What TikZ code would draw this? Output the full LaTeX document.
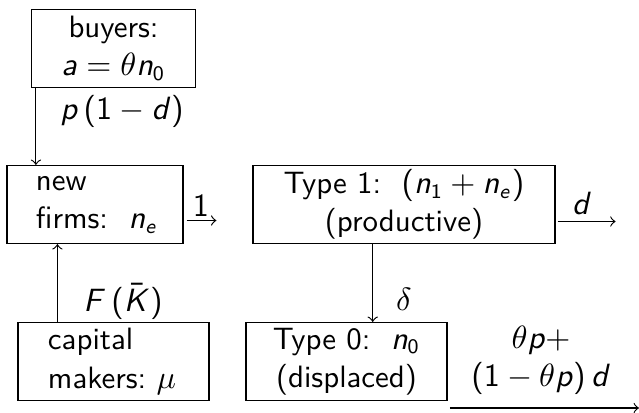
\documentclass[tikz,border=0pt]{standalone}
\usetikzlibrary{calc}
\SetSymbolFont{operators}{normal}{OT1}{cmss}{m}{n}
\DeclareSymbolFont{sfletters}{OT1}{cmss}{m}{sl}
\DeclareMathSymbol{a}{\mathalpha}{sfletters}{`a}
\DeclareMathSymbol{n}{\mathalpha}{sfletters}{`n}
\DeclareMathSymbol{p}{\mathalpha}{sfletters}{`p}
\DeclareMathSymbol{d}{\mathalpha}{sfletters}{`d}
\DeclareMathSymbol{e}{\mathalpha}{sfletters}{`e}
\DeclareMathSymbol{F}{\mathalpha}{sfletters}{`F}
\DeclareMathSymbol{K}{\mathalpha}{sfletters}{`K}
\def\u{0.34pt}
\begin{document}
\begin{tikzpicture}[x=0.34pt,y=-0.34pt,
  every node/.style={font=\sffamily\fontsize{10.5}{13}\selectfont},
  cbox/.style={draw, line width=0.4pt, inner sep=0pt, minimum height=78*\u, align=center},
  lbox/.style={draw, line width=0.4pt, inner ysep=0pt, minimum height=78*\u, align=left},
  lab/.style={inner sep=0pt},
  flow/.style={->, line width=0.4pt}]
\useasboundingbox (0,0) rectangle (639,412);

\node[cbox, minimum width=164*\u] (buyers) at (113.5,48.5) {buyers:\\$a=\theta n_0$};
\node[lbox, inner xsep=29*\u, text width=118*\u] (newfirms) at (95,204.5) {new\\\mbox{firms:\ \ $n_e$}};
\node[cbox, minimum width=302*\u] (type1) at (404,204.5) {Type 1:\ \ $(n_1+n_e)$\\(productive)};
\node[cbox, minimum width=201*\u] (type0) at (346.5,361.5) {Type 0:\ \ $n_0$\\(displaced)};
\node[lbox, inner xsep=30*\u, text width=131*\u] (capital) at (113.5,361.5) {capital\\\mbox{makers:\ $\mu$}};

% buyers -> new firms
\coordinate (b1) at ($(buyers.south west)+(5,0)$);
\draw[flow] (b1) -- (b1 |- newfirms.north);
\node[lab] (lp) at (122,111) {$p\,(1-d)$};

% new firms -> type 1
\coordinate (n1) at ($(newfirms.east)+(3,16)$);
\coordinate (t1) at ($(type1.west)+(-36,16)$);
\draw[flow] (n1) -- (t1);
\node[lab] (l1) at (201,206) {$1$};

% type 1 -> out
\coordinate (t1e) at ($(type1.east)+(2,17)$);
\coordinate (dout) at ($(type1.east)+(60,17)$);
\draw[flow] (t1e) -- (dout);
\node[lab] (ld) at (582,203) {$d$};

% type 1 -> type 0
\coordinate (tdel) at (type1.south -| 372.7,0);
\draw[flow] (tdel) -- (tdel |- type0.north);
\node[lab] (ldel) at (404,299) {$\delta$};

% capital -> new firms
\coordinate (cm) at ($(capital.north west)+(40,0)$);
\draw[flow] (cm) -- (cm |- newfirms.south);
\node[lab] (lF) at (123,302) {$F\,(\bar{K})$};

% type 0 -> out
\coordinate (t0a) at (450,408);
\coordinate (t0b) at (639,408);
\draw[flow] (t0a) -- (t0b);
\node[lab, align=center] (lout) at (541,360) {$\theta p+$\\$(1-\theta p)\,d$};
\end{tikzpicture}
\end{document}
